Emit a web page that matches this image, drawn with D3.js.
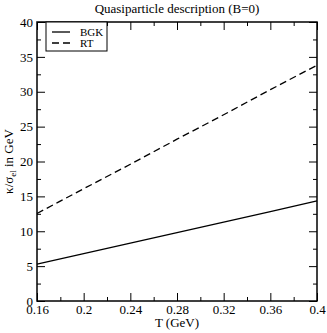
<!DOCTYPE html>
<html>
<head>
<meta charset="utf-8">
<script src="https://cdn.jsdelivr.net/npm/d3@7"></script>
<style>
  body { margin: 0; background: #fff; }
  svg { display: block; font-family: "Liberation Serif", "Times New Roman", serif; }
</style>
</head>
<body>
<div id="chart"></div>
<script>
// temperatures (GeV)
var temps = [0.16, 0.20, 0.24, 0.28, 0.32, 0.36, 0.40];
// kappa / sigma_el in GeV
var bgkValues = [5.3, 6.8, 8.3, 9.8, 11.3, 12.8, 14.35];
var rtValues = [12.55, 16.1, 19.6, 23.2, 26.7, 30.3, 33.8];

var seriesNames = ["BGK", "RT"];
var xTicks = [0.16, 0.2, 0.24, 0.28, 0.32, 0.36, 0.4];
var yTicks = [0, 5, 10, 15, 20, 25, 30, 35, 40];

var W = 327, H = 333;
var margin = {top: 22, right: 10, bottom: 32, left: 37};
var width = W - margin.left - margin.right,
    height = H - margin.top - margin.bottom;

var svg = d3.select("#chart").append("svg")
    .attr("width", W)
    .attr("height", H);

var g = svg.append("g")
    .attr("transform", "translate(" + margin.left + "," + margin.top + ")");

var x = d3.scaleLinear().domain([0.16, 0.4]).range([0, width]);
var y = d3.scaleLinear().domain([0, 40]).range([height, 0]);

// minor ticks halfway between majors
var xMinor = d3.range(0.18, 0.4, 0.04);
var yMinor = d3.range(2.5, 40, 5);

function tickAxis(axisFn, scale, vals, size, labels) {
    return axisFn(scale).tickValues(vals).tickSizeInner(-size).tickSizeOuter(0)
        .tickPadding(4)
        .tickFormat(labels ? d3.format("") : "");
}

// bottom
var bx = g.append("g").attr("transform", "translate(0," + height + ")");
bx.append("g").call(tickAxis(d3.axisBottom, x, xMinor, 4, false));
bx.append("g").call(tickAxis(d3.axisBottom, x, xTicks, 8, true));
// top
g.append("g").call(tickAxis(d3.axisTop, x, xMinor, 4, false));
g.append("g").call(tickAxis(d3.axisTop, x, xTicks, 8, false));
// left
g.append("g").call(tickAxis(d3.axisLeft, y, yMinor, 4, false));
var ly = g.append("g").call(tickAxis(d3.axisLeft, y, yTicks, 8, true));
// right
var rx = g.append("g").attr("transform", "translate(" + width + ",0)");
rx.append("g").call(tickAxis(d3.axisRight, y, yMinor, 4, false));
rx.append("g").call(tickAxis(d3.axisRight, y, yTicks, 8, false));

g.selectAll(".domain").remove();
g.selectAll(".tick line").attr("stroke", "#000").attr("stroke-width", 1);
g.selectAll(".tick text")
    .attr("fill", "#000")
    .style("font-family", "'Liberation Serif', serif")
    .style("font-size", "13px");
// x labels below the axis line, y labels left of it
bx.selectAll(".tick text").attr("y", 4).attr("dy", "0.71em");
ly.selectAll(".tick text").attr("x", -4);

// frame
g.append("rect")
    .attr("width", width)
    .attr("height", height)
    .attr("fill", "none")
    .attr("stroke", "#000")
    .attr("stroke-width", 1.5);

var line = d3.line()
    .x(function (d, i) { return x(temps[i]); })
    .y(function (d) { return y(d); });

g.append("path")
    .datum(bgkValues)
    .attr("d", line)
    .attr("fill", "none")
    .attr("stroke", "#000")
    .attr("stroke-width", 1.3);

g.append("path")
    .datum(rtValues)
    .attr("d", line)
    .attr("fill", "none")
    .attr("stroke", "#000")
    .attr("stroke-width", 1.3)
    .attr("stroke-dasharray", "7,4");

// legend
var leg = g.append("g").attr("transform", "translate(9,0)");
leg.append("rect")
    .attr("width", 61)
    .attr("height", 29)
    .attr("fill", "#fff")
    .attr("stroke", "#000")
    .attr("stroke-width", 1);
seriesNames.forEach(function (name, i) {
    var yy = 10 + i * 11;
    leg.append("line")
        .attr("x1", 6).attr("x2", 24)
        .attr("y1", yy).attr("y2", yy)
        .attr("stroke", "#000")
        .attr("stroke-width", 1.3)
        .attr("stroke-dasharray", i === 1 ? "7,4" : null);
    leg.append("text")
        .attr("x", 34)
        .attr("y", yy + 4)
        .style("font-size", "11px")
        .text(name);
});

// titles
svg.append("text")
    .attr("x", margin.left + width / 2)
    .attr("y", 13)
    .attr("text-anchor", "middle")
    .style("font-size", "13px")
    .text("Quasiparticle description (B=0)");

svg.append("text")
    .attr("x", margin.left + width / 2)
    .attr("y", 327)
    .attr("text-anchor", "middle")
    .style("font-size", "13px")
    .text("T (GeV)");

var yt = svg.append("text")
    .attr("transform", "translate(13," + (margin.top + height / 2) + ") rotate(-90)")
    .attr("text-anchor", "middle")
    .style("font-size", "13px");
yt.append("tspan").text("κ/σ");
yt.append("tspan").attr("dy", 3).style("font-size", "9px").text("el");
yt.append("tspan").attr("dy", -3).text(" in GeV");
</script>
</body>
</html>
